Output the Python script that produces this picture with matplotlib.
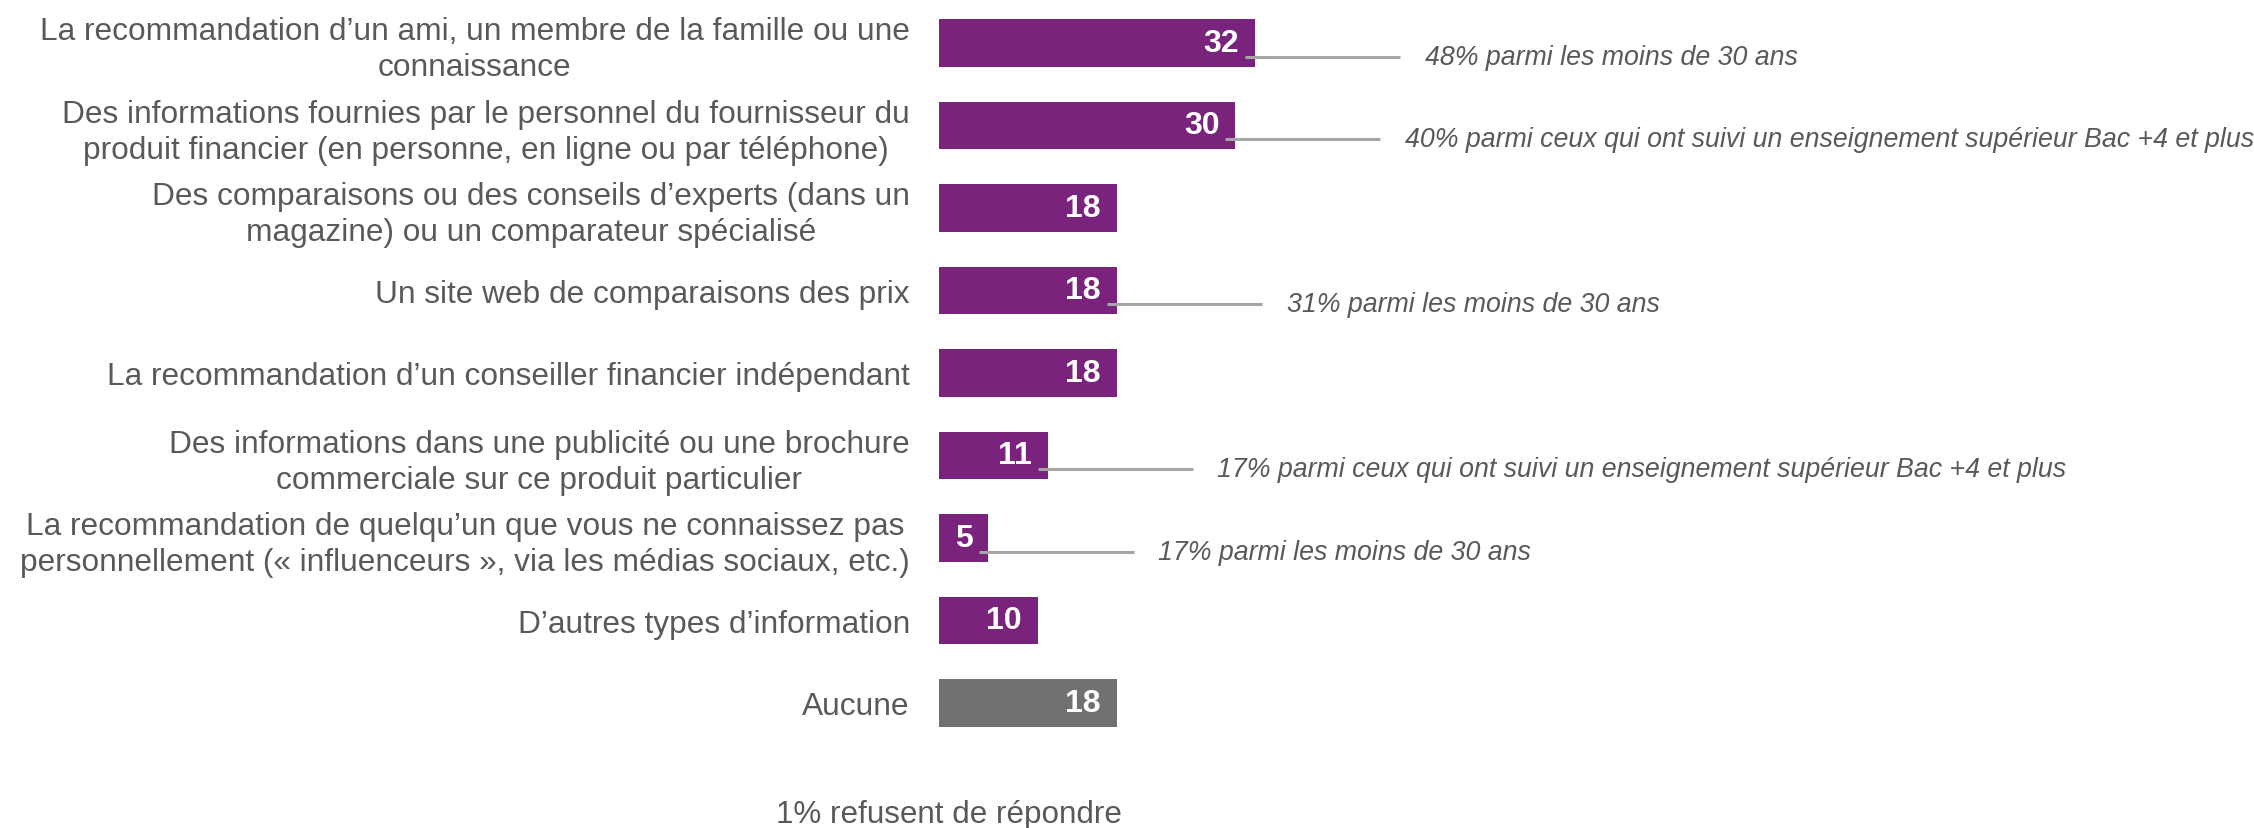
import matplotlib.pyplot as plt

plt.rcParams['font.family'] = ['Liberation Sans', 'DejaVu Sans']

# Sources d'information (top to bottom) and share of respondents (%)
labels = [
    "La recommandation d’un ami, un membre de la famille ou une\nconnaissance",
    "Des informations fournies par le personnel du fournisseur du\nproduit financier (en personne, en ligne ou par téléphone)",
    "Des comparaisons ou des conseils d’experts (dans un\nmagazine) ou un comparateur spécialisé",
    "Un site web de comparaisons des prix",
    "La recommandation d’un conseiller financier indépendant",
    "Des informations dans une publicité ou une brochure\ncommerciale sur ce produit particulier",
    "La recommandation de quelqu’un que vous ne connaissez pas\npersonnellement (« influenceurs », via les médias sociaux, etc.)",
    "D’autres types d’information",
    "Aucune",
]
values = [32, 30, 18, 18, 18, 11, 5, 10, 18]

# Side notes: bar index -> text
notes = {
    0: "48% parmi les moins de 30 ans",
    1: "40% parmi ceux qui ont suivi un enseignement supérieur Bac +4 et plus",
    3: "31% parmi les moins de 30 ans",
    5: "17% parmi ceux qui ont suivi un enseignement supérieur Bac +4 et plus",
    6: "17% parmi les moins de 30 ans",
}
footnote = "1% refusent de répondre"

PURPLE = "#7a237d"
GREY_BAR = "#717171"
TEXT = "#595959"
LINE = "#a6a6a6"

W, H = 2254, 829
fig = plt.figure(figsize=(W / 100, H / 100), dpi=100)
ax = fig.add_axes([939 / W, 0, 1 - 939 / W, 1])

colors = [PURPLE] * (len(values) - 1) + [GREY_BAR]
ypos = list(range(len(values)))
ax.barh(ypos, values, height=0.57, color=colors)

# axis scaling: ~9.875 px per percent, ~82.5 px per row
ax.set_xlim(0, (W - 939) / 9.875)
ax.set_ylim((H - 44) / 82.5, -44 / 82.5)

ax.set_yticks(ypos)
ax.set_yticklabels(labels, fontsize=22.8, color=TEXT, multialignment='center',
                   linespacing=1.24)
ax.tick_params(axis='y', length=0, pad=21)
ax.set_xticks([])
for s in ax.spines.values():
    s.set_visible(False)

for i, v in enumerate(values):
    ax.text(v - 1.6, i, str(v), ha='right', va='center',
            color='white', fontsize=23, fontweight='bold')

for i, txt in notes.items():
    v = values[i]
    y = i + 0.165
    ax.plot([v - 1.0, v + 14.7], [y, y], color=LINE, lw=2.2, solid_capstyle='butt')
    ax.text(v + 17.2, y, txt, ha='left', va='center', color=TEXT,
            fontsize=19.3, style='italic')

fig.text(949 / W, 1 - 815 / H, footnote, ha='center', va='center',
         fontsize=22.6, color=TEXT)

fig.savefig("out.png", dpi=100)
